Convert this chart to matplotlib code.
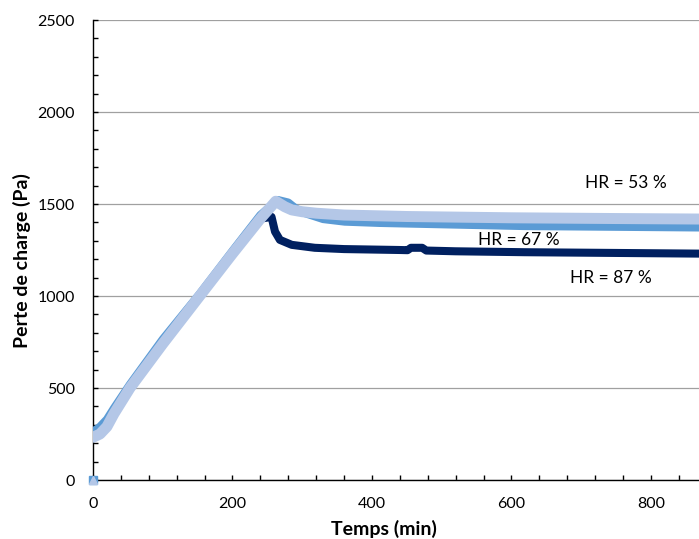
import numpy as np
import matplotlib
matplotlib.use("Agg")
import matplotlib.pyplot as plt
from matplotlib.ticker import MultipleLocator

plt.rcParams['font.family'] = ['Lato', 'DejaVu Sans']

# --- DATA ---
# HR = 53 % (light blue)
t_53 = [0, 10, 20, 30, 53, 100, 153, 200, 240, 262, 275, 285, 300, 320, 360, 450, 600, 750, 880]
p_53 = [232, 250, 290, 360, 500, 740, 1000, 1230, 1420, 1515, 1485, 1468, 1458, 1450, 1440, 1432, 1425, 1421, 1418]

# HR = 67 % (medium blue)
t_67 = [0, 10, 20, 30, 53, 100, 153, 200, 240, 265, 280, 290, 300, 330, 361, 411, 520, 619, 750, 880]
p_67 = [262, 290, 330, 390, 520, 765, 1012, 1245, 1440, 1522, 1508, 1478, 1455, 1418, 1404, 1397, 1388, 1380, 1376, 1372]

# HR = 87 % (dark navy)
t_87 = [0, 30, 53, 153, 240, 256, 261, 268, 285, 318, 360, 440, 451, 456, 472, 478, 520, 619, 750, 880]
p_87 = [232, 360, 500, 1000, 1420, 1430, 1350, 1305, 1278, 1262, 1255, 1250, 1249, 1262, 1262, 1247, 1243, 1238, 1234, 1230]

# first recorded point of each series
t0 = [0]
p0 = [0]

labels = ["HR = 53 %", "HR = 67 %", "HR = 87 %"]
label_pos = [(705, 1614), (552, 1304), (684, 1098)]

C_LIGHT = '#B4C7E7'
C_MED = '#5B9BD5'
C_DARK = '#002060'

fig = plt.figure(figsize=(6.99, 5.39), dpi=100)
ax = fig.add_axes([93 / 699, 1 - 480 / 539, 1 - 93 / 699, (480 - 20) / 539])

ax.plot(t_87, p_87, color=C_DARK, lw=5.8, solid_capstyle='round', solid_joinstyle='round', zorder=3)
ax.plot(t_67, p_67, color=C_MED, lw=5.8, solid_capstyle='round', solid_joinstyle='round', zorder=4)
ax.plot(t_53, p_53, color=C_LIGHT, lw=7.9, solid_capstyle='round', solid_joinstyle='round', zorder=5)

ax.plot(t0, p0, 's', color=C_MED, ms=6, clip_on=False, zorder=6)
ax.plot(t0, p0, '^', color=C_LIGHT, ms=6, clip_on=False, zorder=7)

for txt, (x, y) in zip(labels, label_pos):
    ax.text(x, y, txt, fontsize=12.5, color='black', va='center', ha='left')

ax.set_xlim(0, 869)
ax.set_ylim(0, 2500)
ax.xaxis.set_major_locator(MultipleLocator(200))
ax.xaxis.set_minor_locator(MultipleLocator(40))
ax.yaxis.set_major_locator(MultipleLocator(500))
ax.yaxis.set_minor_locator(MultipleLocator(100))

ax.grid(axis='y', which='major', color='#A0A0A0', lw=0.9, zorder=0)
ax.set_axisbelow(True)

for s in ['top', 'right']:
    ax.spines[s].set_visible(False)
for s in ['left', 'bottom']:
    ax.spines[s].set_linewidth(1.0)
    ax.spines[s].set_color('black')

ax.tick_params(which='both', direction='in', length=3.5, width=1.0, color='black')
ax.tick_params(axis='x', which='major', pad=12, labelsize=11.5)
ax.tick_params(axis='y', which='major', pad=13, labelsize=11.5)

fig.text(22 / 699, 1 - 261 / 539, "Perte de charge (Pa)", rotation=90, fontsize=14,
         fontweight='bold', ha='center', va='center')
fig.text(384 / 699, 1 - 520 / 539, "Temps (min)", fontsize=14, fontweight='bold',
         ha='center', va='top')

fig.savefig("out.png", dpi=100)
